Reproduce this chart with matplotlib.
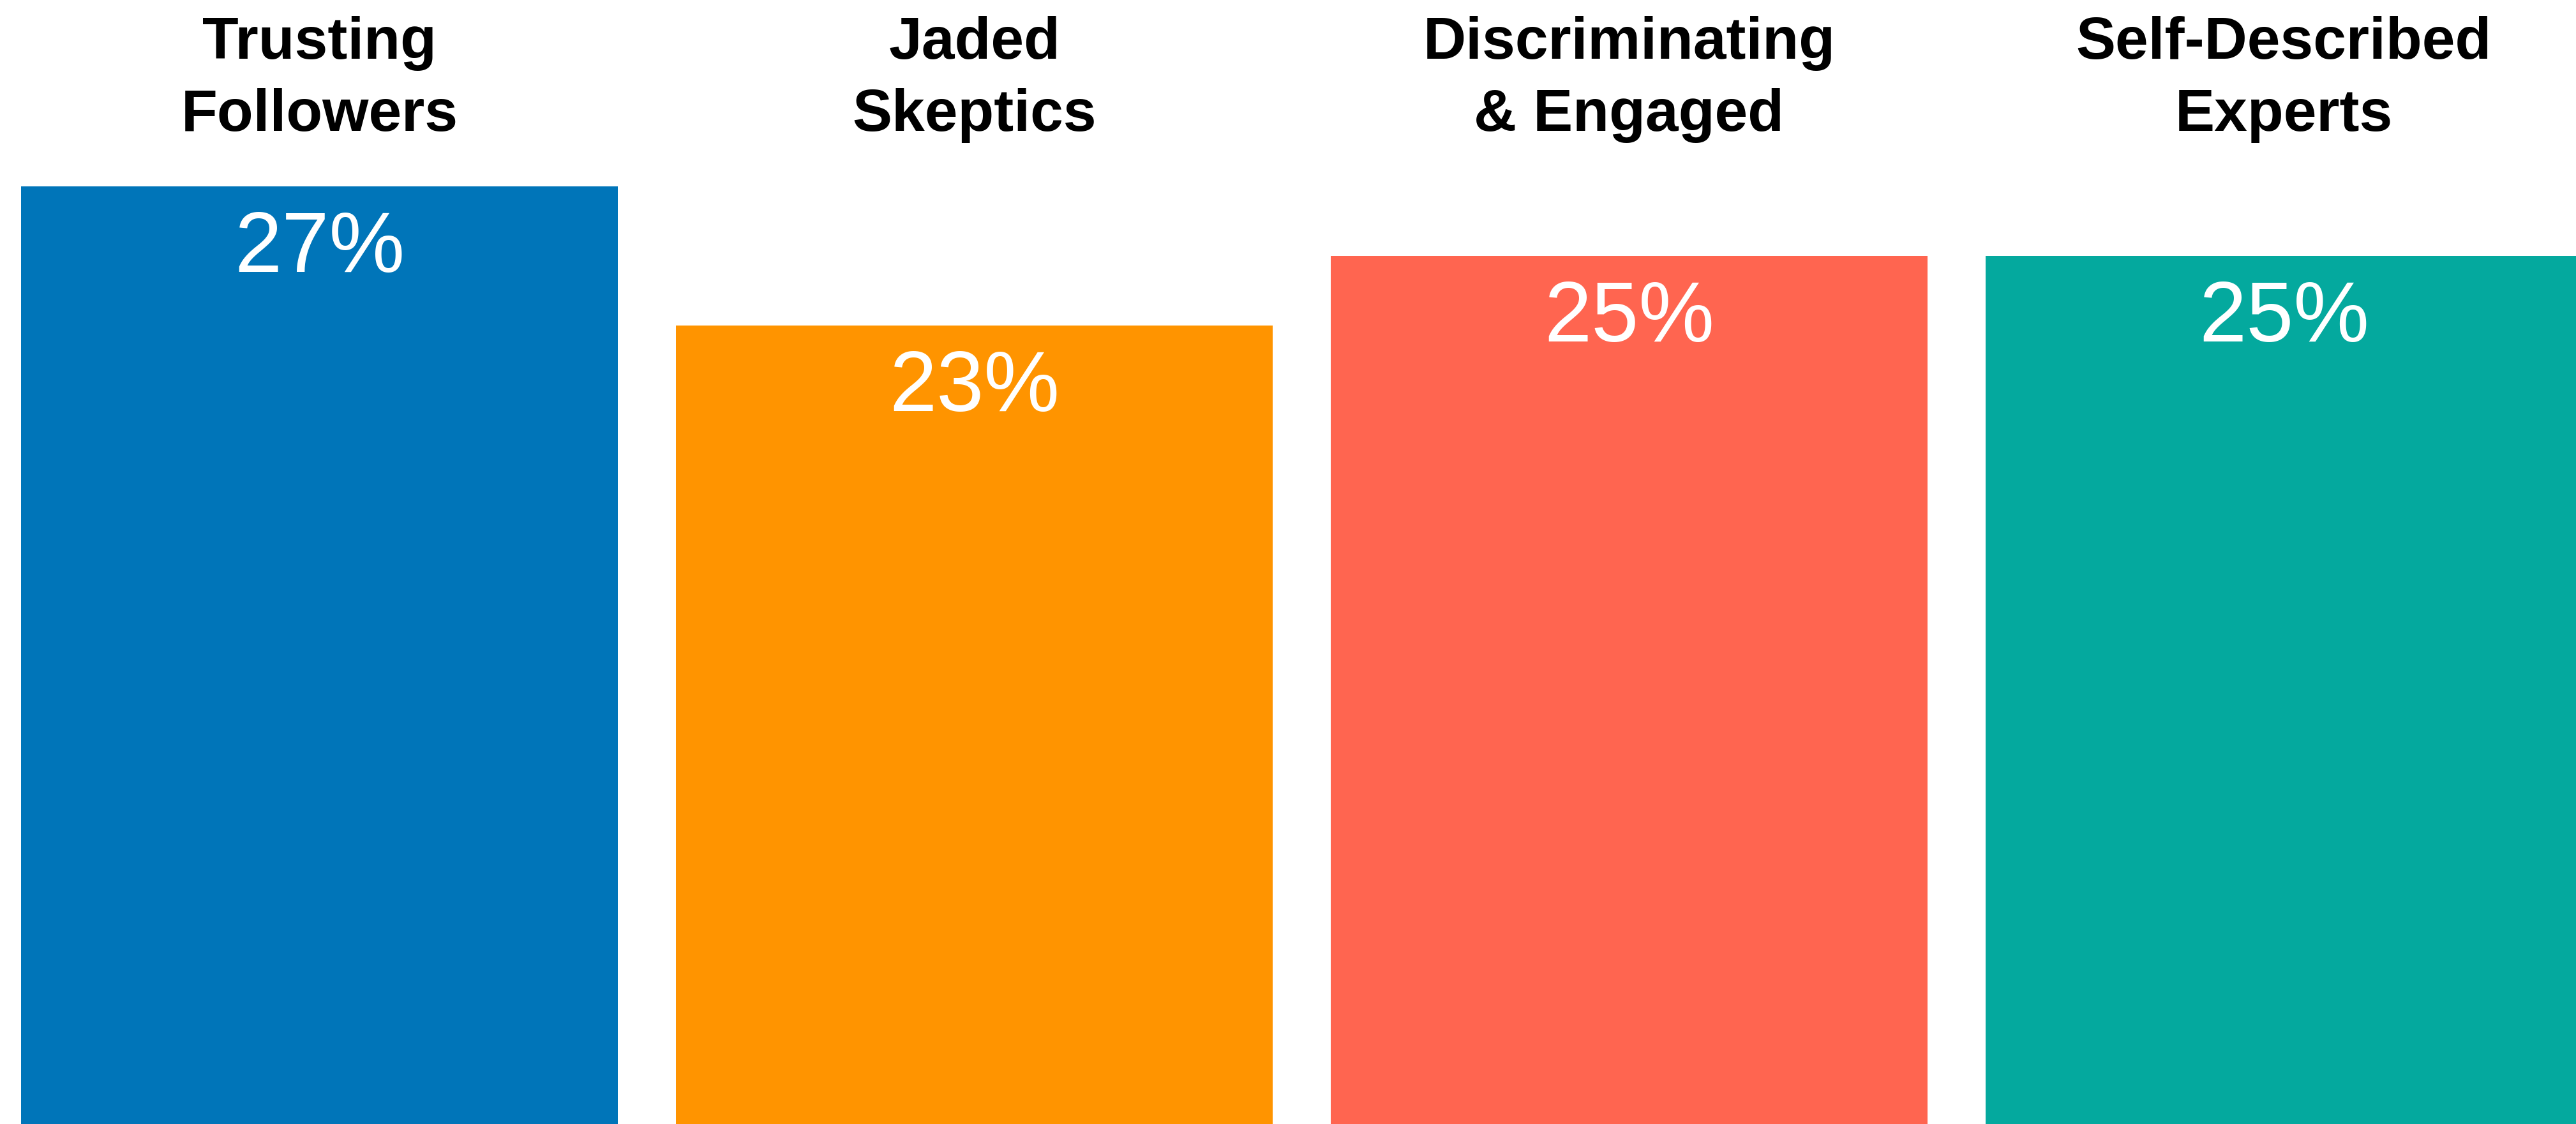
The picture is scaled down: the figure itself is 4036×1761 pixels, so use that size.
import matplotlib.pyplot as plt


categories = ["Trusting\nFollowers", "Jaded\nSkeptics", "Discriminating\n& Engaged", "Self-Described\nExperts"]
shares = [27, 23, 25, 25]
bar_colors = ["#0075B9", "#FF9400", "#FF6550", "#04A99E"]


def main():
    fig = plt.figure(figsize=(40.37, 17.61), dpi=100)
    ax = fig.add_axes([0, 0, 1, 1])

    positions = list(range(len(categories)))
    bars = ax.bar(positions, shares, width=0.911, color=bar_colors, linewidth=0)

    ax.set_xlim(-0.488, 3.447)
    ax.set_ylim(0, 32.37)
    ax.axis("off")

    # category names above the plot area (baseline of the second line)
    for x, name in zip(positions, categories):
        ax.annotate(name, xy=(x, 1), xycoords=("data", "axes fraction"),
                    xytext=(0, -205), textcoords="offset pixels",
                    ha="center", va="baseline", fontsize=67, fontweight="bold",
                    family="Liberation Sans", color="black", linespacing=1.4)

    # percentage inside each bar
    for bar, value in zip(bars, shares):
        ax.annotate(f"{value}%", xy=(bar.get_x() + bar.get_width() / 2, bar.get_height()),
                    xytext=(0, -134), textcoords="offset pixels",
                    ha="center", va="baseline", fontsize=96, color="white",
                    family="Liberation Sans")

    fig.savefig("out.png", dpi=100)
    plt.close(fig)


if __name__ == "__main__":
    main()
